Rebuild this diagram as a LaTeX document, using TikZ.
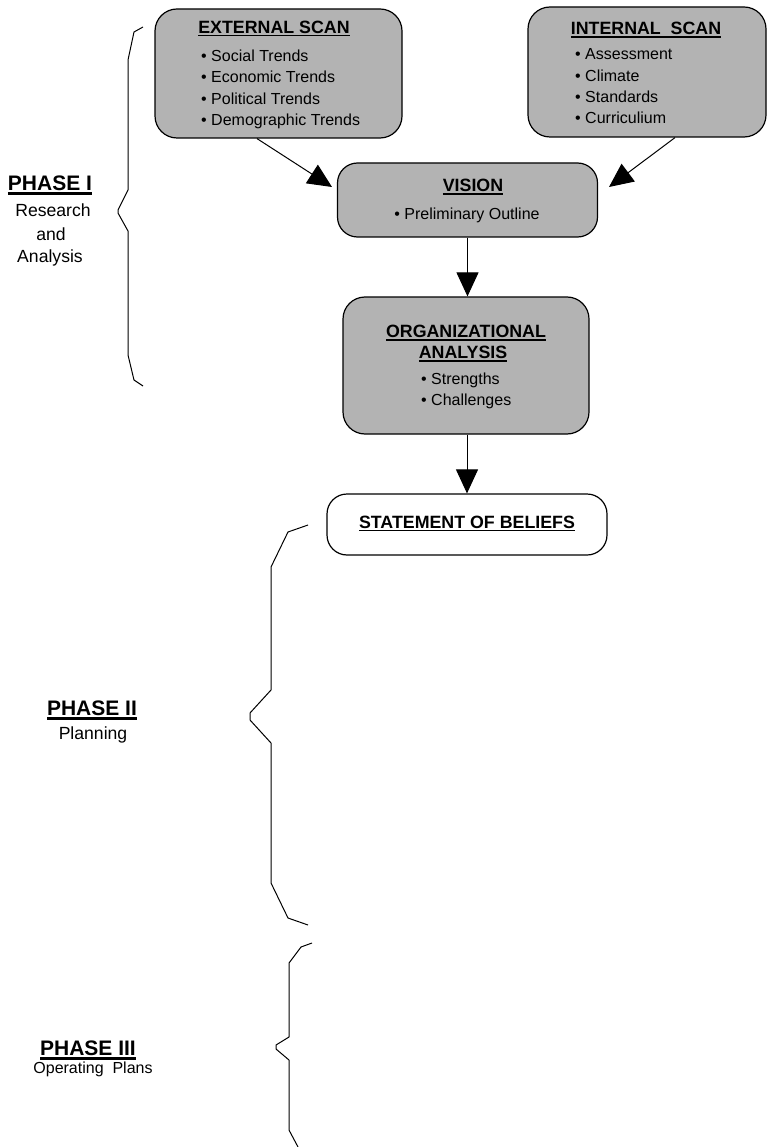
\documentclass[tikz,border=0pt]{standalone}
\usepackage{fontspec}
\setmainfont{Liberation Sans}
\usetikzlibrary{arrows.meta}
\definecolor{boxgray}{RGB}{179,179,179}
\newcommand{\myul}[3]{\setbox0\hbox{#3}\rlap{\rule[#1]{\wd0}{#2}}\box0}
\newcommand{\ttlul}[1]{\myul{-3pt}{1.5pt}{#1}}
\newcommand{\phul}[1]{\myul{-4.5pt}{3pt}{#1}}
\begin{document}
\begin{tikzpicture}[x=1pt,y=-1pt,
  gbox/.style={draw, line width=1.2pt, fill=boxgray, rounded corners=22pt, inner sep=0pt},
  wbox/.style={draw, line width=1.2pt, fill=white, rounded corners=20pt, inner sep=0pt},
  ttl/.style={inner sep=0pt, anchor=base, font=\fontsize{17.8}{20}\selectfont\bfseries},
  itm/.style={inner sep=0pt, anchor=base west, font=\fontsize{16}{19}\selectfont},
  itc/.style={inner sep=0pt, anchor=base, font=\fontsize{16}{19}\selectfont},
  ph/.style={inner sep=0pt, anchor=base, font=\fontsize{21}{24}\selectfont\bfseries},
  phs/.style={inner sep=0pt, anchor=base, font=\fontsize{17.6}{20}\selectfont},
  arr/.style={line width=1pt, -{Triangle[length=24pt,width=22pt]}},
  brace/.style={line width=1pt, line join=round}]
\useasboundingbox[fill=white] (0,0) rectangle (767,1147);

% boxes
\node[gbox, minimum width=247pt, minimum height=129pt] (ext) at (278.5,73.5) {};
\node[gbox, minimum width=238pt, minimum height=130pt] (int) at (647,72) {};
\node[gbox, minimum width=260pt, minimum height=74pt, rounded corners=20pt] (vis) at (467.5,200) {};
\node[gbox, minimum width=246pt, minimum height=137pt] (org) at (466,365.5) {};
\node[wbox, minimum width=280pt, minimum height=61pt] (stmt) at (467,524.5) {};

% external scan text
\node[ttl] (extT) at (274,33.5) {\ttlul{EXTERNAL SCAN}};
\node[itm] (ext1) at (201,61.7) {• Social Trends};
\node[itm] (ext2) at (201,82.9) {• Economic Trends};
\node[itm] (ext3) at (201,104.1) {• Political Trends};
\node[itm] (ext4) at (201,125.3) {• Demographic Trends};

% internal scan text
\node[ttl] (intT) at (646,35) {\ttlul{INTERNAL\ \ SCAN}};
\node[itm] (int1) at (575,60) {• Assessment};
\node[itm] (int2) at (575,81.3) {• Climate};
\node[itm] (int3) at (575,102.6) {• Standards};
\node[itm] (int4) at (575,123.9) {• Curriculium};

% vision text
\node[ttl] (visT) at (473,192) {\ttlul{VISION}};
\node[itc] (vis1) at (467,220) {• Preliminary Outline};

% organizational analysis text
\node[ttl] (orgT1) at (466,337.5) {\ttlul{ORGANIZATIONAL}};
\node[ttl] (orgT2) at (463,358.5) {\ttlul{ANALYSIS}};
\node[itm] (org1) at (421,384) {• Strengths};
\node[itm] (org2) at (421,405.3) {• Challenges};

% statement of beliefs
\node[ttl] (stmtT) at (467,528) {\ttlul{STATEMENT OF BELIEFS}};

% connectors
\coordinate (tipL) at (332,187);
\coordinate (tipR) at (609,187);
\draw[arr] ([xshift=-21.5pt]ext.south) -- (tipL);
\draw[arr] ([xshift=28pt]int.south) -- (tipR);
\draw[arr] (vis.south) -- (vis.south |- org.north);
\draw[arr] ([xshift=1pt]org.south) -- ([xshift=1pt]org.south |- stmt.north);

% phase I
\draw[brace] (143,27) -- (134,32) -- (128,60) -- (128,190) -- (118,210) -- (118,213) -- (128,231) -- (128,355) -- (134,380) -- (143,386);
\node[ph] (ph1) at (50,191) {\phul{PHASE I}};
\node[phs] (ph1a) at (53,216.7) {Research};
\node[phs] (ph1b) at (51,240.5) {and};
\node[phs] (ph1c) at (50,262.5) {Analysis};

% phase II
\draw[brace] (308,525) -- (288,532) -- (271,567) -- (271,690) -- (250,713) -- (250,720) -- (271,743) -- (271,883) -- (288,918) -- (308,925);
\node[ph] (ph2) at (92,715) {\phul{PHASE II}};
\node[phs] (ph2a) at (93,739.5) {Planning};

% phase III
\draw[brace] (312,943) -- (301,947) -- (289,963) -- (289,1037) -- (276,1045) -- (276,1049) -- (289,1060) -- (289,1130) -- (298,1147);
\node[ph] (ph3) at (88,1055) {\phul{PHASE III}};
\node[itc] (ph3a) at (93,1073.5) {Operating\ \ Plans};
\end{tikzpicture}
\end{document}
